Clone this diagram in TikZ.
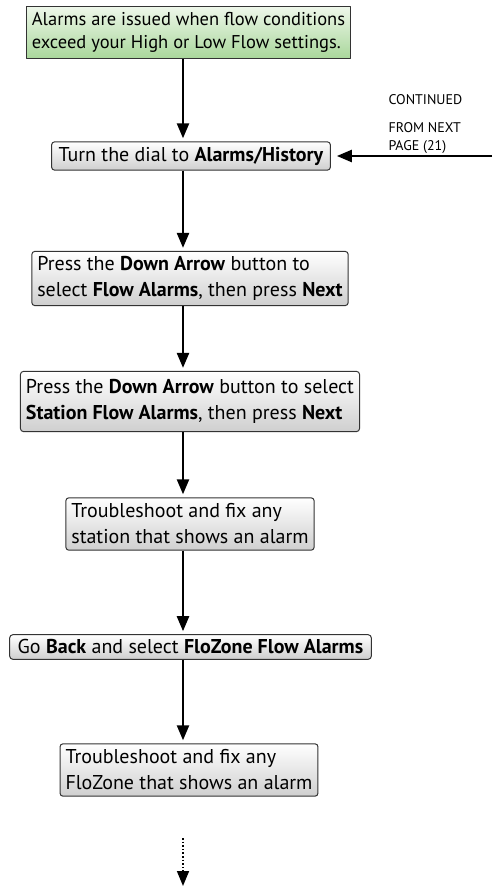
\documentclass[tikz,border=0pt]{standalone}
\usepackage{fontspec}
\setmainfont{PT Sans}
\usetikzlibrary{arrows.meta}
\definecolor{boxgreentop}{HTML}{EEF7EA}
\definecolor{boxgreenbot}{HTML}{A9D79B}
\definecolor{boxgraybot}{HTML}{CFCFCF}
\begin{document}
\begin{tikzpicture}[x=1pt, y=-1pt, line join=round, >={Triangle[length=15pt,width=12pt]},
		stepbox/.style={draw=black!80, line width=1pt, rounded corners=3pt, top color=white, bottom color=boxgraybot, align=left, inner xsep=5.5pt, inner ysep=5pt, font=\fontsize{20}{26}\selectfont},
		startbox/.style={stepbox, rounded corners=0pt, top color=boxgreentop, bottom color=boxgreenbot, font=\fontsize{18.5}{23}\selectfont, inner ysep=6pt},
		flow/.style={->, line width=2.4pt, shorten >=3pt}]
	\useasboundingbox (0,0) rectangle (492,890);
	\coordinate (spine) at (183,0);
	\node[startbox] (start) at (188.5,32.5) {Alarms are issued when flow conditions\\exceed your High or Low Flow settings.};
	\node[stepbox, inner xsep=7pt] (dial) at (191,156) {Turn the dial to \textbf{Alarms/History}};
	\node[stepbox] (flowalarm) at (190,278.5) {Press the \textbf{Down Arrow} button to\\select \textbf{Flow Alarms}, then press \textbf{Next}};
	\node[stepbox, inner ysep=8pt] (stationalarm) at (190,401.5) {Press the \textbf{Down Arrow} button to select\\\textbf{Station Flow Alarms}, then press \textbf{Next}};
	\node[stepbox, inner ysep=6pt] (fixstation) at (190,524) {Troubleshoot and fix any\\station that shows an alarm};
	\node[stepbox, inner xsep=8pt] (back) at (190.5,647) {Go \textbf{Back} and select \textbf{FloZone Flow Alarms}};
	\node[stepbox, inner ysep=6pt] (fixzone) at (189,770) {Troubleshoot and fix any\\FloZone that shows an alarm};
	% continuation from the next page
	\node[anchor=west, font=\fontsize{14}{16}\selectfont] (cont) at (385,100) {CONTINUED};
	\node[align=left, anchor=west, inner ysep=0pt, font=\fontsize{14}{18}\selectfont] (page) at (385,138) {FROM NEXT\\PAGE (21)};
	\coordinate (edge) at (492,156);
	\coordinate (more) at (183,838);
	\coordinate (moreend) at (183,886);
	% main flow
	\draw[flow] (start.south -| spine) -- (dial.north -| spine);
	\draw[flow] (dial.south -| spine) -- (flowalarm.north -| spine);
	\draw[flow] (flowalarm.south -| spine) -- (stationalarm.north -| spine);
	\draw[flow] (stationalarm.south -| spine) -- (fixstation.north -| spine);
	\draw[flow] (fixstation.south -| spine) -- (back.north -| spine);
	\draw[flow] (back.south -| spine) -- (fixzone.north -| spine);
	\draw[flow, shorten >=6pt] (edge) -- (dial.east);
	\draw[->, line width=1.6pt, dotted] (more) -- (moreend);
\end{tikzpicture}
\end{document}
